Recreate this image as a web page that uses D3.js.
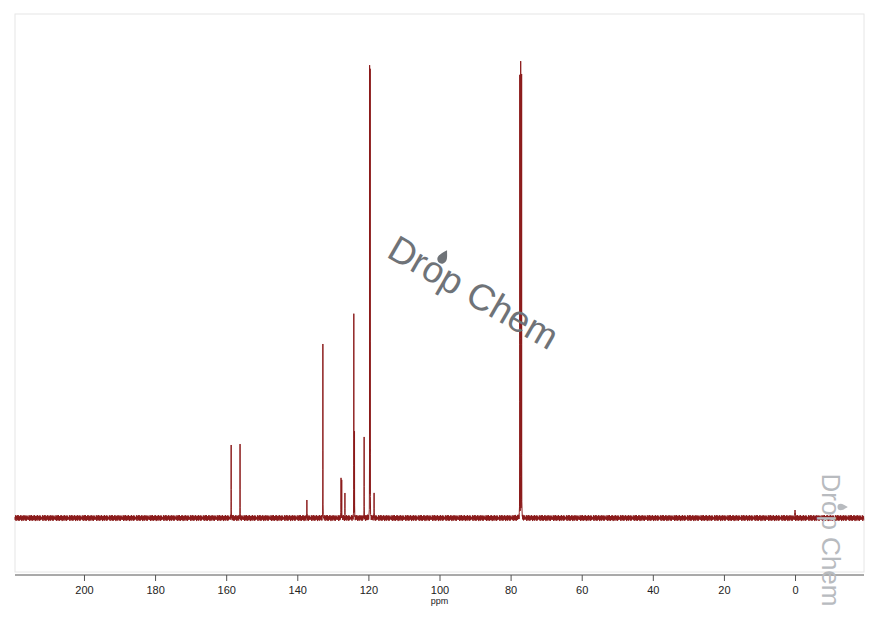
<!DOCTYPE html>
<html><head><meta charset="utf-8">
<script src="https://cdn.jsdelivr.net/npm/d3@7"></script>
<style>body{margin:0;background:#fff;font-family:"Helvetica Neue",Arial,"Liberation Sans",sans-serif}</style>
</head><body><div id="chart"></div>
<script>
// peak list (ppm, relative intensity)
const peakShifts = [158.6, 156.1, 137.3, 132.8, 127.7, 127.5, 126.6, 124.1, 123.9, 121.2, 119.65, 119.5, 118.4, 77.42, 77.16, 76.9, 0.0];
const peakHeights = [73, 74, 18, 174, 40, 38, 25, 204, 86, 81, 450, 446, 25, 442, 455, 442, 8];
// baseline noise sample (tiled along the axis)
const noise = [1.2,-2.1,0.8,3.0,-1.5,-3.2,2.4,0.3,-0.9,1.8,-2.6,2.9,-0.4,-1.9,1.1,3.3,-2.8,0.6,-1.2,2.2,-3.0,0.9,1.6,-0.7,-2.3,2.7,-1.1,0.4,3.1,-2.0,-0.2,1.4,-3.4,2.0,0.7,-1.6,2.5,-2.4,0.1,1.9,-1.3,-2.9,3.2,-0.5,0.9,-1.8,2.3,-0.8,1.5,-2.7,0.2,2.8,-1.0,-3.1,1.7,0.5,-2.2,2.6,-0.6,1.0,-1.4,0.4,-0.3];
const xTicks = [200, 180, 160, 140, 120, 100, 80, 60, 40, 20, 0];

const W = 880, H = 621;
const m = {left: 15, right: 16, top: 14, bottom: 49};
const svg = d3.select('#chart').append('svg').attr('width', W).attr('height', H);

const x = d3.scaleLinear().domain([219.4, -19.4]).range([m.left, W - m.right]);
const y = d3.scaleLinear().domain([-54, 504]).range([H - m.bottom, m.top]);

// frame
svg.append('rect').attr('x', m.left).attr('y', m.top)
    .attr('width', W - m.left - m.right).attr('height', H - m.top - m.bottom)
    .attr('fill', 'none').attr('stroke', '#e6e6e6');

// build spectrum from the peak list (narrow Lorentzian lines)
const hw = 0.012;
const shape = p => {
    let v = 0;
    peakShifts.forEach((s, i) => { const d = (p - s) / hw; v += peakHeights[i] / (1 + d * d); });
    return v;
};
const pts = [];
let k = 0;
for (let p = 219.4; p >= -19.4; p -= 0.06) {
    pts.push([p, noise[k % noise.length] * 0.9 + shape(p)]);
    k++;
}
peakShifts.forEach(s => {
    [-0.03, -0.015, 0, 0.015, 0.03].forEach(o => pts.push([s + o, shape(s + o)]));
});
pts.sort((a, b) => b[0] - a[0]);

svg.append('path').datum(pts)
    .attr('d', d3.line().x(d => x(d[0])).y(d => y(d[1])))
    .attr('fill', 'none').attr('stroke', '#8b1a1a').attr('stroke-width', 1);

// axis
const ax = svg.append('g').attr('transform', `translate(0,${H - m.bottom + 3})`)
    .call(d3.axisBottom(x).tickValues(xTicks).tickSize(6).tickPadding(5));
ax.select('.domain').attr('stroke', '#555').attr('d', `M${m.left},0H${W - m.right}`);
ax.selectAll('.tick line').attr('stroke', '#555');
ax.selectAll('text').attr('font-size', 11).attr('fill', '#222');
svg.append('text').attr('x', x(100)).attr('y', 604).attr('text-anchor', 'middle')
    .attr('font-size', 9).attr('fill', '#222').text('ppm');

// watermarks
function mark(tx, ty, rot, size, color, dx, dy) {
    const g = svg.append('g').attr('transform', `translate(${tx},${ty}) rotate(${rot})`);
    g.append('text').attr('text-anchor', 'middle').attr('dominant-baseline', 'middle')
        .attr('font-size', size).attr('fill', color).text('Drop Chem');
    const s = size / 40;
    g.append('path').attr('transform', `translate(${dx},${dy}) scale(${s})`)
        .attr('d', 'M0,-9 C3,-4 5,-1 5,2 A5,5 0 0 1 -5,2 C-5,-1 -3,-4 0,-9Z').attr('fill', color);
}
mark(472, 295, 30, 37, '#6f7378', -44, -18);
mark(829, 540, 90, 26, '#b8bbbf', -33, -13);
</script></body></html>
